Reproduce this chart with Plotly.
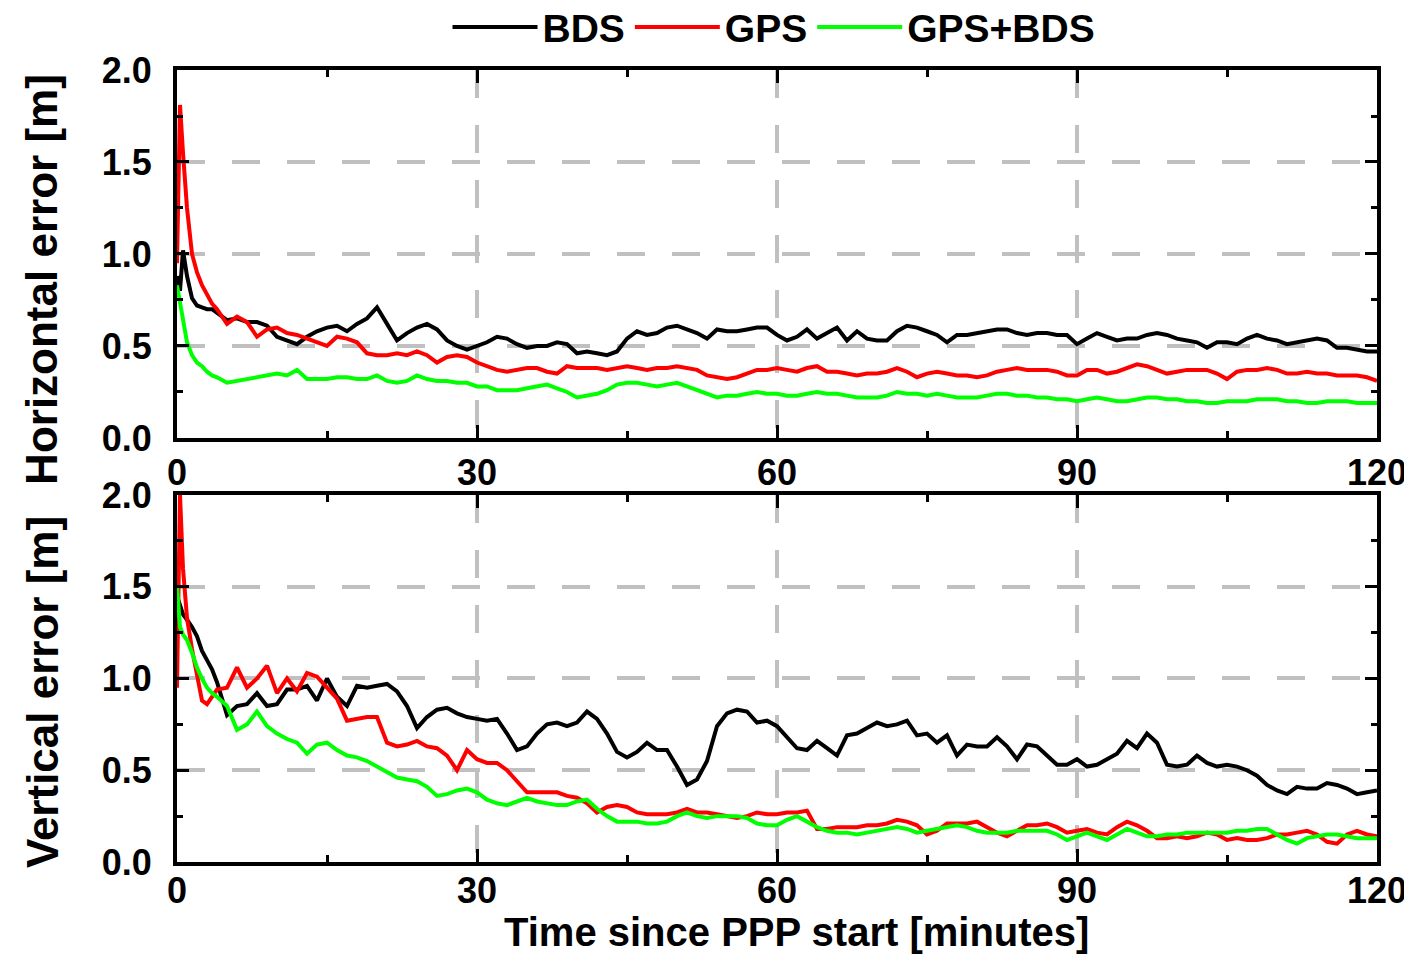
import plotly.graph_objects as go

# time since PPP start [minutes]
TIME = [0, 0.3, 0.6, 1, 1.5, 2, 2.5, 3, 3.5, 4,
        5, 6, 7, 8, 9, 10, 11, 12, 13, 14,
        15, 16, 17, 18, 19, 20, 21, 22, 23, 24,
        25, 26, 27, 28, 29, 30, 31, 32, 33, 34,
        35, 36, 37, 38, 39, 40, 41, 42, 43, 44,
        45, 46, 47, 48, 49, 50, 51, 52, 53, 54,
        55, 56, 57, 58, 59, 60, 61, 62, 63, 64,
        65, 66, 67, 68, 69, 70, 71, 72, 73, 74,
        75, 76, 77, 78, 79, 80, 81, 82, 83, 84,
        85, 86, 87, 88, 89, 90, 91, 92, 93, 94,
        95, 96, 97, 98, 99, 100, 101, 102, 103, 104,
        105, 106, 107, 108, 109, 110, 111, 112, 113, 114,
        115, 116, 117, 118, 119, 120]

BDS_H = [0.88, 0.80, 1.02, 0.88, 0.76, 0.72, 0.71, 0.70, 0.70, 0.68,
         0.64, 0.65, 0.63, 0.63, 0.61, 0.55, 0.53, 0.51, 0.55, 0.58,
         0.60, 0.61, 0.58, 0.62, 0.65, 0.71, 0.62, 0.53, 0.57, 0.60,
         0.62, 0.59, 0.53, 0.50, 0.48, 0.50, 0.52, 0.55, 0.54, 0.51,
         0.49, 0.50, 0.50, 0.52, 0.51, 0.46, 0.47, 0.46, 0.45, 0.47,
         0.54, 0.58, 0.56, 0.57, 0.60, 0.61, 0.59, 0.57, 0.54, 0.59,
         0.58, 0.58, 0.59, 0.60, 0.60, 0.56, 0.53, 0.55, 0.59, 0.54,
         0.57, 0.60, 0.53, 0.58, 0.54, 0.53, 0.53, 0.58, 0.61, 0.60,
         0.58, 0.56, 0.52, 0.56, 0.56, 0.57, 0.58, 0.59, 0.59, 0.57,
         0.56, 0.57, 0.57, 0.56, 0.56, 0.51, 0.54, 0.57, 0.55, 0.53,
         0.54, 0.54, 0.56, 0.57, 0.56, 0.54, 0.53, 0.52, 0.49, 0.52,
         0.52, 0.51, 0.54, 0.56, 0.54, 0.53, 0.51, 0.52, 0.53, 0.54,
         0.53, 0.49, 0.49, 0.48, 0.47, 0.47]

GPS_H = [0.95, 1.81, 1.55, 1.25, 1.00, 0.90, 0.83, 0.78, 0.73, 0.70,
         0.62, 0.66, 0.63, 0.55, 0.59, 0.60, 0.57, 0.56, 0.54, 0.52,
         0.50, 0.55, 0.54, 0.52, 0.46, 0.45, 0.45, 0.46, 0.45, 0.47,
         0.45, 0.41, 0.44, 0.45, 0.44, 0.41, 0.39, 0.37, 0.36, 0.37,
         0.38, 0.38, 0.36, 0.35, 0.39, 0.38, 0.38, 0.38, 0.37, 0.38,
         0.39, 0.38, 0.37, 0.38, 0.38, 0.39, 0.38, 0.37, 0.34, 0.33,
         0.32, 0.33, 0.35, 0.37, 0.37, 0.38, 0.37, 0.36, 0.38, 0.39,
         0.36, 0.36, 0.35, 0.34, 0.35, 0.35, 0.36, 0.38, 0.36, 0.33,
         0.35, 0.36, 0.35, 0.34, 0.34, 0.33, 0.34, 0.36, 0.37, 0.38,
         0.37, 0.37, 0.37, 0.36, 0.34, 0.34, 0.37, 0.37, 0.35, 0.36,
         0.38, 0.40, 0.39, 0.37, 0.35, 0.36, 0.37, 0.37, 0.37, 0.35,
         0.32, 0.36, 0.37, 0.37, 0.38, 0.37, 0.35, 0.35, 0.36, 0.35,
         0.35, 0.34, 0.34, 0.34, 0.33, 0.31]

GPSBDS_H = [0.83, 0.74, 0.64, 0.52, 0.45, 0.41, 0.39, 0.36, 0.34, 0.33,
            0.30, 0.31, 0.32, 0.33, 0.34, 0.35, 0.34, 0.37, 0.32, 0.32,
            0.32, 0.33, 0.33, 0.32, 0.32, 0.34, 0.31, 0.30, 0.31, 0.34,
            0.32, 0.31, 0.31, 0.30, 0.30, 0.28, 0.28, 0.26, 0.26, 0.26,
            0.27, 0.28, 0.29, 0.27, 0.25, 0.22, 0.23, 0.24, 0.26, 0.29,
            0.30, 0.30, 0.29, 0.28, 0.29, 0.30, 0.28, 0.26, 0.24, 0.22,
            0.23, 0.23, 0.24, 0.25, 0.24, 0.24, 0.23, 0.23, 0.24, 0.25,
            0.24, 0.24, 0.23, 0.22, 0.22, 0.22, 0.23, 0.25, 0.24, 0.24,
            0.23, 0.24, 0.23, 0.22, 0.22, 0.22, 0.23, 0.24, 0.24, 0.23,
            0.23, 0.22, 0.22, 0.21, 0.21, 0.20, 0.21, 0.22, 0.21, 0.20,
            0.20, 0.21, 0.22, 0.22, 0.21, 0.21, 0.20, 0.20, 0.19, 0.19,
            0.20, 0.20, 0.20, 0.21, 0.21, 0.21, 0.20, 0.20, 0.19, 0.19,
            0.20, 0.20, 0.20, 0.19, 0.19, 0.19]

BDS_V = [1.45, 1.40, 1.35, 1.32, 1.28, 1.23, 1.15, 1.10, 1.05, 0.98,
         0.80, 0.85, 0.86, 0.92, 0.85, 0.86, 0.94, 0.94, 0.96, 0.88,
         1.00, 0.90, 0.85, 0.96, 0.95, 0.96, 0.97, 0.93, 0.85, 0.73,
         0.79, 0.83, 0.84, 0.81, 0.79, 0.78, 0.77, 0.78, 0.70, 0.61,
         0.63, 0.70, 0.75, 0.76, 0.74, 0.76, 0.82, 0.78, 0.70, 0.60,
         0.57, 0.60, 0.65, 0.61, 0.61, 0.52, 0.42, 0.45, 0.55, 0.74,
         0.81, 0.83, 0.82, 0.76, 0.77, 0.74, 0.68, 0.62, 0.61, 0.66,
         0.62, 0.58, 0.69, 0.70, 0.73, 0.76, 0.74, 0.75, 0.77, 0.69,
         0.70, 0.65, 0.69, 0.58, 0.64, 0.63, 0.63, 0.68, 0.63, 0.56,
         0.64, 0.63, 0.58, 0.53, 0.53, 0.56, 0.52, 0.53, 0.56, 0.59,
         0.66, 0.62, 0.70, 0.65, 0.53, 0.52, 0.53, 0.58, 0.54, 0.52,
         0.53, 0.52, 0.50, 0.47, 0.42, 0.39, 0.37, 0.41, 0.40, 0.40,
         0.43, 0.42, 0.40, 0.37, 0.38, 0.39]

GPS_V = [0.95, 2.00, 1.60, 1.33, 1.16, 1.01, 0.88, 0.86, 0.90, 0.94,
         0.95, 1.06, 0.95, 1.00, 1.07, 0.92, 1.00, 0.93, 1.03, 1.01,
         0.95, 0.89, 0.77, 0.78, 0.79, 0.79, 0.65, 0.63, 0.64, 0.66,
         0.63, 0.62, 0.58, 0.50, 0.61, 0.56, 0.54, 0.54, 0.50, 0.44,
         0.38, 0.38, 0.38, 0.38, 0.36, 0.35, 0.32, 0.27, 0.30, 0.31,
         0.30, 0.27, 0.26, 0.26, 0.26, 0.27, 0.29, 0.27, 0.27, 0.26,
         0.25, 0.24, 0.25, 0.27, 0.26, 0.26, 0.27, 0.27, 0.28, 0.18,
         0.18, 0.19, 0.19, 0.19, 0.20, 0.20, 0.21, 0.23, 0.22, 0.20,
         0.15, 0.17, 0.21, 0.21, 0.21, 0.22, 0.19, 0.16, 0.14, 0.17,
         0.20, 0.20, 0.21, 0.19, 0.16, 0.17, 0.18, 0.16, 0.15, 0.19,
         0.22, 0.20, 0.17, 0.13, 0.13, 0.14, 0.13, 0.14, 0.16, 0.15,
         0.12, 0.13, 0.12, 0.12, 0.13, 0.15, 0.15, 0.16, 0.17, 0.15,
         0.11, 0.10, 0.15, 0.17, 0.15, 0.14]

GPSBDS_V = [1.50, 1.28, 1.24, 1.21, 1.14, 1.06, 1.00, 0.95, 0.92, 0.90,
            0.85, 0.72, 0.75, 0.82, 0.74, 0.70, 0.67, 0.65, 0.59, 0.64,
            0.65, 0.61, 0.58, 0.57, 0.55, 0.52, 0.49, 0.46, 0.45, 0.44,
            0.41, 0.36, 0.37, 0.39, 0.40, 0.38, 0.34, 0.32, 0.31, 0.33,
            0.35, 0.33, 0.32, 0.31, 0.31, 0.33, 0.34, 0.29, 0.25, 0.22,
            0.22, 0.22, 0.21, 0.21, 0.22, 0.25, 0.27, 0.25, 0.24, 0.25,
            0.25, 0.25, 0.24, 0.21, 0.20, 0.20, 0.23, 0.25, 0.22, 0.19,
            0.17, 0.16, 0.16, 0.15, 0.16, 0.17, 0.18, 0.19, 0.18, 0.16,
            0.17, 0.18, 0.19, 0.20, 0.19, 0.17, 0.16, 0.16, 0.16, 0.17,
            0.17, 0.17, 0.17, 0.15, 0.12, 0.14, 0.16, 0.14, 0.12, 0.15,
            0.18, 0.16, 0.14, 0.14, 0.15, 0.15, 0.16, 0.16, 0.16, 0.16,
            0.16, 0.17, 0.17, 0.18, 0.18, 0.15, 0.12, 0.10, 0.13, 0.14,
            0.15, 0.15, 0.14, 0.13, 0.13, 0.13]

SERIES = [("BDS", "#000000", BDS_H, BDS_V),
          ("GPS", "#ff0000", GPS_H, GPS_V),
          ("GPS+BDS", "#00ff00", GPSBDS_H, GPSBDS_V)]

X_TICKS = [0, 30, 60, 90, 120]
Y_TICKS = [0.0, 0.5, 1.0, 1.5, 2.0]

FONT = "Liberation Sans, Arial, sans-serif"

fig = go.Figure()
for name, color, h, v in SERIES:
    fig.add_trace(go.Scatter(x=TIME, y=h, mode="lines", name=name,
                             line=dict(color=color, width=4),
                             xaxis="x", yaxis="y", legendgroup=name))
    fig.add_trace(go.Scatter(x=TIME, y=v, mode="lines", name=name,
                             line=dict(color=color, width=4),
                             xaxis="x2", yaxis="y2", legendgroup=name,
                             showlegend=False))

tickfont = dict(family=FONT, size=36, color="black", weight="bold")

xcommon = dict(range=[0, 120], tickvals=X_TICKS, ticks="inside", ticklen=13,
               tickwidth=3, tickcolor="black", showline=True, linewidth=4,
               linecolor="black", mirror="allticks", showgrid=True,
               gridcolor="#c0c0c0", gridwidth=4, griddash="28px,27px",
               zeroline=False, tickfont=tickfont,
               minor=dict(dtick=15, ticks="inside", ticklen=7, tickwidth=3,
                          tickcolor="black", showgrid=False))
ycommon = dict(range=[0, 2], tickvals=Y_TICKS, tickformat=".1f",
               ticks="inside", ticklen=12, tickwidth=3, tickcolor="black",
               showline=True, linewidth=4, linecolor="black",
               mirror="allticks", showgrid=True, gridcolor="#c0c0c0",
               gridwidth=4, griddash="28px,27px", zeroline=False,
               tickfont=tickfont, ticklabelstandoff=14,
               minor=dict(dtick=0.25, ticks="inside", ticklen=6, tickwidth=3,
                          tickcolor="black", showgrid=False))

fig.update_layout(
    width=1404, height=946,
    margin=dict(l=169, r=35, t=62, b=92, autoexpand=False),
    paper_bgcolor="white", plot_bgcolor="white",
    font=dict(family=FONT, color="black"),
    xaxis=dict(domain=[0, 1], anchor="y", **xcommon),
    yaxis=dict(domain=[0.5354, 1], anchor="x", **ycommon),
    xaxis2=dict(domain=[0, 1], anchor="y2", ticklabelstandoff=-6, **xcommon),
    yaxis2=dict(domain=[0, 0.4634], anchor="x2", **ycommon),
    legend=dict(orientation="h", x=0.4975, xanchor="center", y=1.054,
                yanchor="middle", itemwidth=85,
                font=dict(family=FONT, size=39, color="black", weight="bold"),
                bgcolor="rgba(0,0,0,0)", tracegroupgap=0),
    showlegend=True,
    annotations=[
        dict(text="Horizontal error [m]", xref="paper", yref="paper",
             x=-0.1125, y=0.735, xanchor="center", yanchor="middle",
             textangle=-90, showarrow=False,
             font=dict(family=FONT, size=44, color="black", weight="bold")),
        dict(text="Vertical error [m]", xref="paper", yref="paper",
             x=-0.1125, y=0.2146, xanchor="center", yanchor="middle",
             textangle=-90, showarrow=False,
             font=dict(family=FONT, size=44, color="black", weight="bold")),
        dict(text="Time since PPP start [minutes]", xref="paper",
             yref="paper", x=0.516, y=-0.0885, xanchor="center",
             yanchor="middle", showarrow=False,
             font=dict(family=FONT, size=40, color="black", weight="bold")),
    ],
)

fig.write_html("out.html")
